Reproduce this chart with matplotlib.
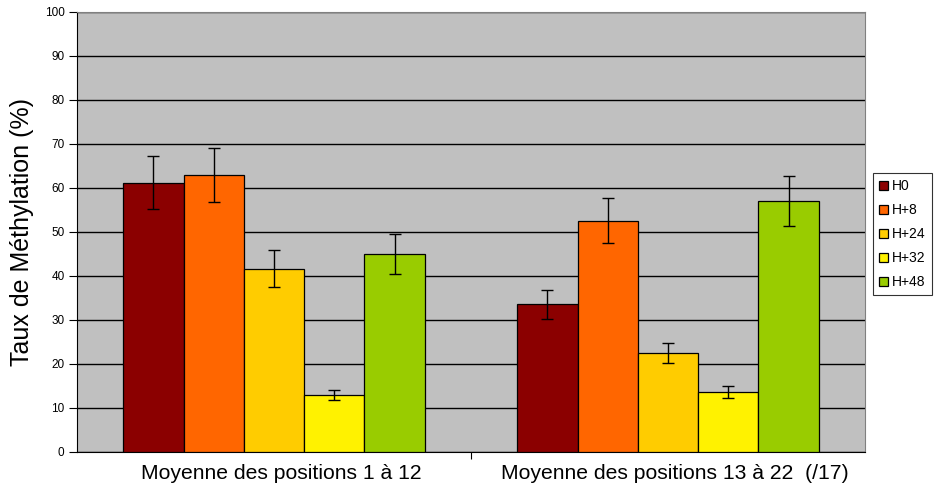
import numpy as np
import matplotlib.pyplot as plt

plt.rcParams['font.family'] = ['Liberation Sans', 'DejaVu Sans']

categories = ['Moyenne des positions 1 à 12', 'Moyenne des positions 13 à 22  (/17)']
series = ['H0', 'H+8', 'H+24', 'H+32', 'H+48']
colors = ['#8B0000', '#FF6600', '#FFCC00', '#FFF200', '#99CC00']

# valeurs moyennes par série (une valeur par catégorie)
H0 = [61.2, 33.6]
H8 = [63.0, 52.6]
H24 = [41.7, 22.5]
H32 = [13.0, 13.7]
H48 = [45.0, 57.0]
values = [H0, H8, H24, H32, H48]

# barres d'erreur
H0_err = [6.0, 3.3]
H8_err = [6.2, 5.2]
H24_err = [4.2, 2.3]
H32_err = [1.2, 1.4]
H48_err = [4.5, 5.7]
errors = [H0_err, H8_err, H24_err, H32_err, H48_err]

fig = plt.figure(figsize=(9.37, 4.87), dpi=100)
ax = fig.add_axes([0.0822, 0.0719, 0.841, 0.9035])
ax.set_facecolor('#C0C0C0')

x = np.arange(len(categories))
width = 0.153
for i, (name, vals, errs, col) in enumerate(zip(series, values, errors, colors)):
    pos = x + (i - 2) * width
    ax.bar(pos, vals, width, color=col, edgecolor='black', linewidth=0.9,
           label=name, zorder=3)
    ax.errorbar(pos, vals, yerr=errs, fmt='none', ecolor='black',
                elinewidth=1, capsize=4, capthick=1, zorder=4)

ax.set_xlim(-0.5, 1.5)
ax.set_ylim(0, 100)
ax.set_yticks(np.arange(0, 101, 10))
ax.yaxis.grid(True, color='black', linewidth=1)
ax.set_axisbelow(True)

ax.set_xticks([0.5])
ax.set_xticklabels([''])
# étiquettes de catégorie (légèrement décalées comme dans Excel)
ax.set_xticks(x + 0.018, minor=True)
ax.set_xticklabels(categories, minor=True, fontsize=15.2)
ax.tick_params(axis='x', which='minor', length=0, pad=9)
ax.tick_params(axis='x', which='major', length=5, direction='out')
ax.tick_params(axis='y', labelsize=8.5, length=6, pad=3, direction='out')

for side in ['top', 'right']:
    ax.spines[side].set_color('#808080')
ax.spines['left'].set_color('black')
ax.spines['bottom'].set_color('black')

ax.set_ylabel('Taux de Méthylation (%)', fontsize=18,
              color='black', labelpad=8)

leg = ax.legend(loc='center left', bbox_to_anchor=(1.01, 0.495), fontsize=10,
                frameon=True, fancybox=False, edgecolor='black',
                handlelength=0.65, handleheight=0.65, handletextpad=0.3,
                borderpad=0.45, labelspacing=0.72, borderaxespad=0)
leg.get_frame().set_linewidth(0.8)

fig.savefig('out.png', dpi=100)
